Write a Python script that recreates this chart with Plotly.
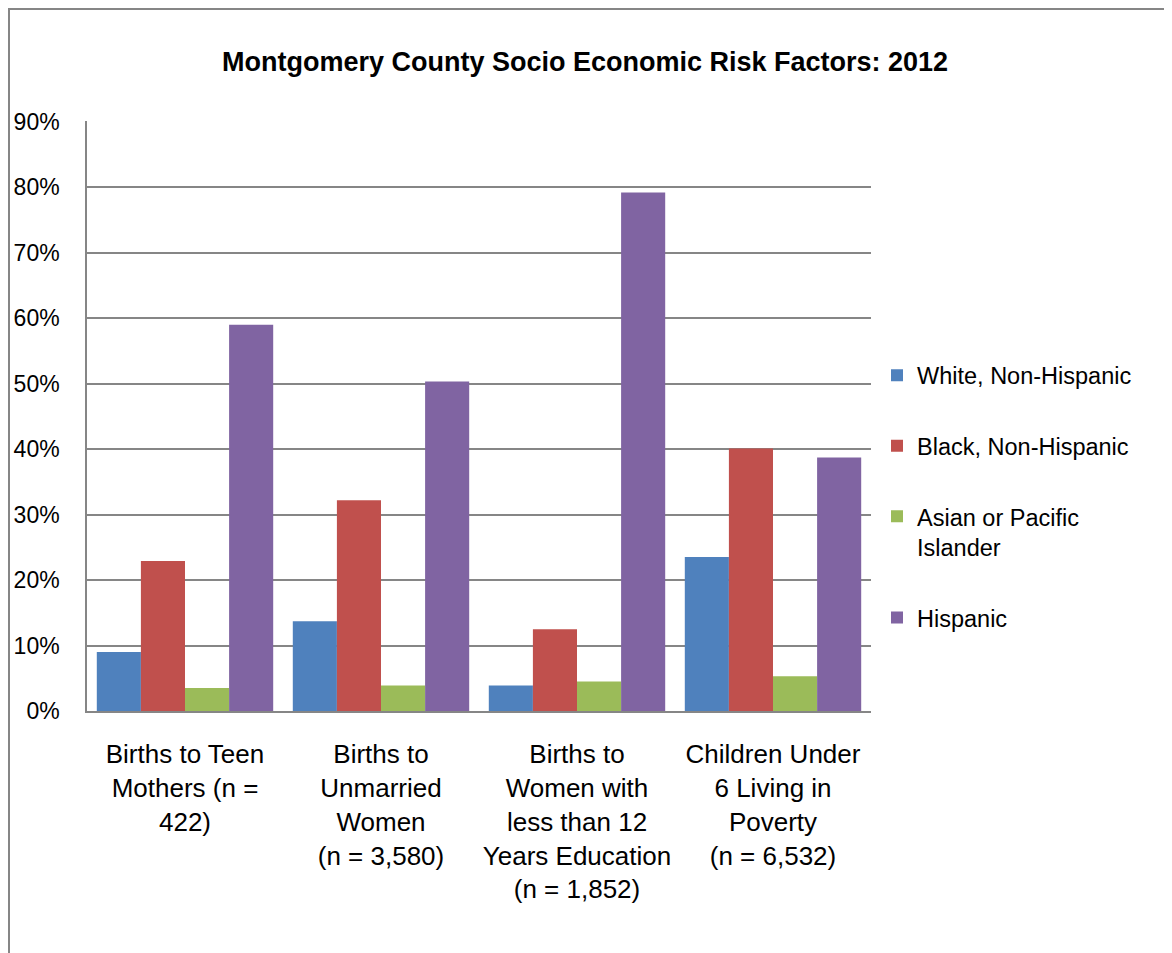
import plotly.graph_objects as go

categories = [
    'Births to Teen<br>Mothers (n =<br>422)',
    'Births to<br>Unmarried<br>Women<br>(n = 3,580)',
    'Births to<br>Women with<br>less than 12<br>Years Education<br>(n = 1,852)',
    'Children Under<br>6 Living in<br>Poverty<br>(n = 6,532)',
]
series_names = ['White, Non-Hispanic', 'Black, Non-Hispanic',
                'Asian or Pacific<br>Islander', 'Hispanic']
white = [0.090, 0.137, 0.039, 0.235]
black = [0.229, 0.322, 0.125, 0.401]
asian = [0.035, 0.039, 0.045, 0.053]
hispanic = [0.590, 0.503, 0.792, 0.387]
y_ticks = [0, 0.1, 0.2, 0.3, 0.4, 0.5, 0.6, 0.7, 0.8, 0.9]

colors = ['#4F81BD', '#C0504D', '#9BBB59', '#8064A2']
font = 'Liberation Sans'
grid = '#868686'

# page body has an 8px margin, so the figure is a bit smaller than the window
W, H = 1164, 945
L, T, PW, PH = 79, 113, 784, 590

fig = go.Figure()
for i, vals in enumerate([white, black, asian, hispanic]):
    fig.add_trace(go.Bar(x=categories, y=vals, name=series_names[i],
                         marker=dict(color=colors[i], line=dict(width=0)),
                         legendgroup=str(i)))

fig.update_layout(
    width=W, height=H,
    margin=dict(l=L, r=W - L - PW, t=T, b=H - T - PH),
    paper_bgcolor='white', plot_bgcolor='white',
    barmode='group', bargap=0.1, bargroupgap=0,
    font=dict(family=font, size=23, color='black'),
    title=dict(text='<b>Montgomery County Socio Economic Risk Factors: 2012</b>',
               x=(585 - 8) / W, xanchor='center', y=1 - 54 / H, yanchor='middle',
               font=dict(family=font, size=27, color='black')),
    legend=dict(x=(869 - L) / PW, y=0.606, xanchor='left', yanchor='top',
                font=dict(size=23.5), tracegroupgap=37, itemwidth=30,
                traceorder='grouped', valign='top'),
    showlegend=True,
)
fig.update_yaxes(range=[0, 0.901], tickvals=y_ticks, tickformat='.0%',
                 showgrid=True, gridcolor=grid, gridwidth=1.5,
                 showline=True, linecolor=grid, linewidth=1.5,
                 ticks='', ticklabelstandoff=21, zeroline=False,
                 tickfont=dict(size=23), automargin=False)
fig.update_xaxes(showline=True, linecolor=grid, linewidth=2,
                 ticks='', tickfont=dict(size=26), ticklabelstandoff=19,
                 automargin=False)

# outer chart border (only left and top edges fall inside the picture)
fig.add_shape(type='rect', xref='paper', yref='paper',
              x0=(1 - L) / PW, x1=(W + 40 - L) / PW,
              y0=(T + PH - H - 40) / PH, y1=(T + PH - 1) / PH,
              line=dict(color=grid, width=2))

fig.write_html('out.html')
